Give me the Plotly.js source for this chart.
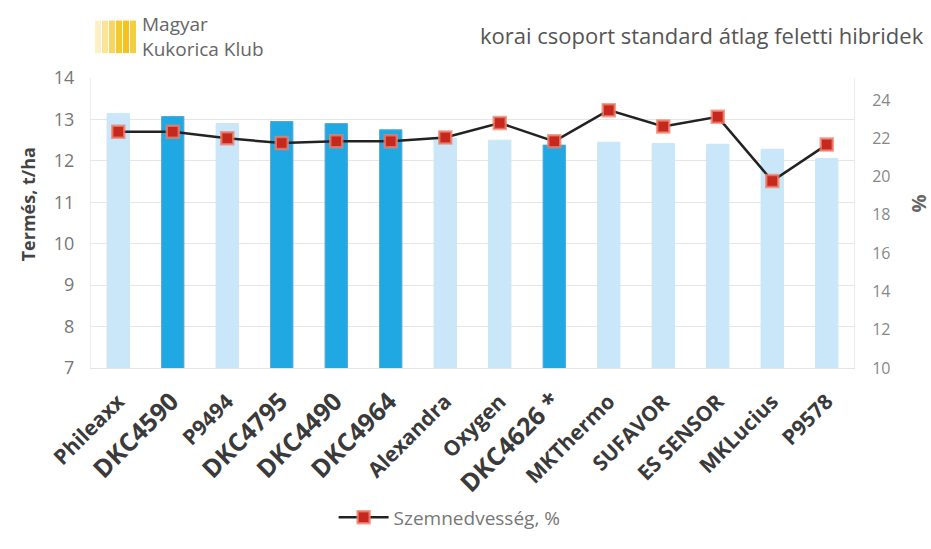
<!DOCTYPE html>
<html>
<head>
<meta charset="utf-8">
<script src="https://cdn.plot.ly/plotly-3.0.1.min.js"></script>
<style>
html,body{margin:0;padding:0;background:#fff;}
#chart{width:931px;height:549px;}
</style>
</head>
<body>
<div id="chart"></div>
<script>
// ---- data ----
const categories = ["Phileaxx","DKC4590","P9494","DKC4795","DKC4490","DKC4964","Alexandra","Oxygen","DKC4626 *","MKThermo","SUFAVOR","ES SENSOR","MKLucius","P9578"];
const highlighted = [false,true,false,true,true,true,false,false,true,false,false,false,false,false];
const yieldValues = [13.14,13.07,12.9,12.95,12.9,12.75,12.55,12.5,12.38,12.45,12.42,12.4,12.28,12.06];
const moistureValues = [22.34,22.34,22.0,21.75,21.84,21.84,22.04,22.8,21.84,23.47,22.62,23.12,19.77,21.67];
const leftTicks = [7,8,9,10,11,12,13,14];
const rightTicks = [10,12,14,16,18,20,22,24];
const headerText = "korai csoport standard átlag feletti hibridek";
const logoText = "Magyar<br>Kukorica Klub";
const leftTitle = "Termés, t/ha";
const lineName = "Szemnedvesség, %";

// ---- geometry helpers (plot area in px) ----
const L = 91, R = 854, T = 78, B = 381;
const px = x => (x - L) / (R - L);
const py = y => (B - y) / (B - T);

const barColors = highlighted.map(h => h ? '#1fa8e2' : '#c9e7f8');
const barLines = highlighted.map(h => h ? '#5aa6d6' : '#c9e7f8');
const tickText = categories.map((c, i) => highlighted[i]
  ? "<span style='font-size:25px'><b>" + c + "</b></span>"
  : "<b>" + c + "</b>");

const traces = [
  {
    type: 'bar', x: categories, y: yieldValues, width: 0.41,
    marker: {color: barColors, line: {color: barLines, width: 1}},
    showlegend: false, hoverinfo: 'x+y'
  },
  {
    type: 'scatter', mode: 'lines+markers', x: categories, y: moistureValues, yaxis: 'y2',
    name: lineName,
    line: {color: '#222222', width: 2.5},
    marker: {symbol: 'square', size: 12, color: '#c6281e', line: {color: 'rgba(240,130,110,0.75)', width: 2.5}}
  }
];

// logo stripes
const stripeColors = ['#fdf0c4','#fbe39a','#f8d55e','#f5c82e','#f4c21c','#f6cd3c'];
const shapes = stripeColors.map((c, i) => ({
  type: 'rect', xref: 'paper', yref: 'paper',
  x0: px(95 + i * 7), x1: px(95 + i * 7 + 6), y0: py(52), y1: py(18),
  fillcolor: c, line: {width: 0}, layer: 'above'
}));

const layout = {
  width: 931, height: 549,
  margin: {l: L, r: 931 - R, t: T, b: 549 - B, pad: 0},
  paper_bgcolor: '#ffffff', plot_bgcolor: '#ffffff',
  font: {family: 'Open Sans, Liberation Sans, sans-serif', color: '#555'},
  xaxis: {
    type: 'category', tickmode: 'array', tickvals: categories, ticktext: tickText,
    tickangle: -45, ticks: '', showgrid: false, showline: true, linecolor: '#e4e4e4',
    ticklabelstandoff: 12,
    tickfont: {size: 21, color: '#3a3a3a', family: 'Open Sans, sans-serif'},
    range: [-0.5, categories.length - 0.5]
  },
  yaxis: {
    range: [7, 14], tickmode: 'array', tickvals: leftTicks, ticktext: leftTicks.map(String),
    showgrid: true, gridcolor: '#e6e6e6', gridwidth: 1, zeroline: false,
    showline: true, linecolor: '#ececec', ticks: '', ticklabelstandoff: 12,
    tickfont: {size: 18, color: '#777'}
  },
  yaxis2: {
    overlaying: 'y', side: 'right', range: [10, 25.15], tickmode: 'array', tickvals: rightTicks,
    ticktext: rightTicks.map(String), showgrid: false, zeroline: false, ticks: '',
    showline: true, linecolor: '#ececec', ticklabelstandoff: 14,
    tickfont: {size: 16, color: '#888'}
  },
  legend: {
    orientation: 'h', x: 0.47, xanchor: 'center', y: py(537), yanchor: 'middle',
    font: {size: 19, color: '#777'}, itemwidth: 50
  },
  shapes: shapes,
  annotations: [
    {text: headerText, xref: 'paper', yref: 'paper', x: px(926), y: py(33), xanchor: 'right', yanchor: 'middle',
     showarrow: false, font: {size: 22, color: '#555', family: 'Open Sans, sans-serif'}},
    {text: logoText, xref: 'paper', yref: 'paper', x: px(140), y: py(35), xanchor: 'left', yanchor: 'middle',
     align: 'left', showarrow: false, font: {size: 19, color: '#666'}},
    {text: '<b>' + leftTitle + '</b>', xref: 'paper', yref: 'paper', x: px(28), y: py(210), textangle: -90,
     xanchor: 'center', yanchor: 'middle', showarrow: false, font: {size: 18, color: '#444'}},
    {text: '<b>%</b>', xref: 'paper', yref: 'paper', x: px(918), y: py(209), textangle: -90,
     xanchor: 'center', yanchor: 'middle', showarrow: false, font: {size: 20, color: '#666'}}
  ]
};

Plotly.newPlot('chart', traces, layout, {displayModeBar: false, staticPlot: true});
</script>
</body>
</html>
